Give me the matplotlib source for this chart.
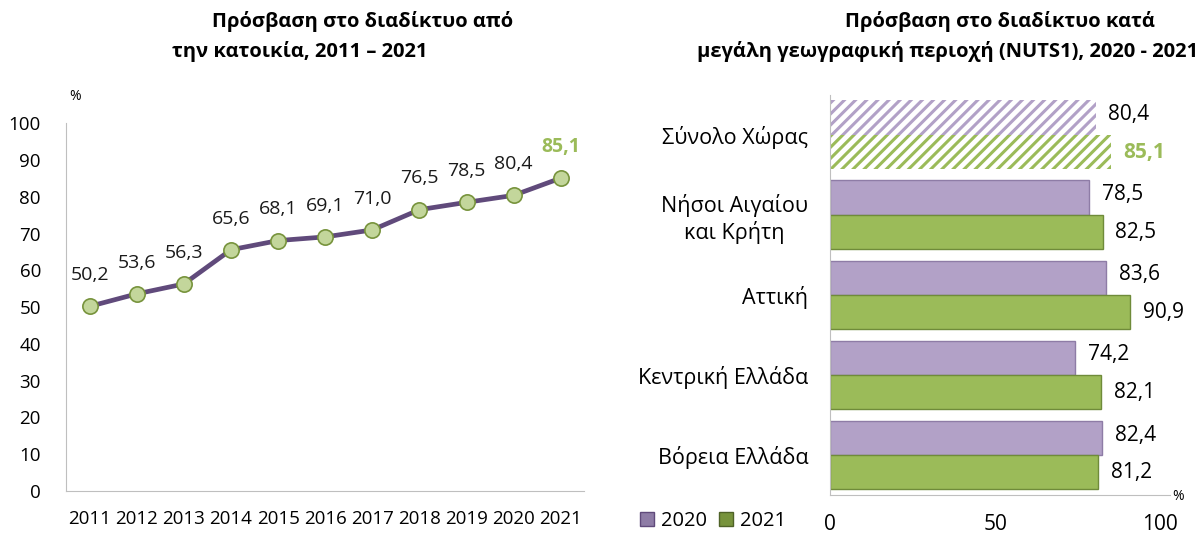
import numpy as np
import matplotlib.pyplot as plt
from matplotlib.patches import Patch

plt.rcParams['font.family'] = ['Open Sans', 'DejaVu Sans']
plt.rcParams['hatch.linewidth'] = 2.2

# left chart data
years = ['2011', '2012', '2013', '2014', '2015', '2016', '2017', '2018', '2019', '2020', '2021']
access = [50.2, 53.6, 56.3, 65.6, 68.1, 69.1, 71.0, 76.5, 78.5, 80.4, 85.1]

# right chart data
regions = ['Σύνολο Χώρας', 'Νήσοι Αιγαίου\nκαι Κρήτη', 'Αττική', 'Κεντρική Ελλάδα', 'Βόρεια Ελλάδα']
v2020 = [80.4, 78.5, 83.6, 74.2, 82.4]
v2021 = [85.1, 82.5, 90.9, 82.1, 81.2]

purple_line = '#604A7B'
purple_bar = '#B2A1C7'
green_bar = '#9BBB59'
green_lbl = '#9BBB59'
grey = '#BFBFBF'

fig = plt.figure(figsize=(12, 5.36), dpi=100)

# ---- left: line chart
ax1 = fig.add_axes([0.055, 0.084, 0.432, 0.686])
x = np.arange(len(years))
ax1.plot(x, access, color=purple_line, lw=3.4, marker='o', ms=11,
         mfc='#C3D69B', mec='#77933C', mew=1.2, zorder=3)
for i, v in enumerate(access):
    lbl = f'{v:.1f}'.replace('.', ',')
    if i == len(access) - 1:
        ax1.annotate(lbl, (i, v), xytext=(0, 15), textcoords='offset points',
                     ha='center', va='bottom', fontsize=14, color=green_lbl, fontweight='bold')
    else:
        ax1.annotate(lbl, (i, v), xytext=(0, 16), textcoords='offset points',
                     ha='center', va='bottom', fontsize=14, color='#1a1a1a')
ax1.set_xlim(-0.5, len(years) - 0.5)
ax1.set_ylim(0, 100)
ax1.set_yticks(range(0, 101, 10))
ax1.set_xticks(x)
ax1.set_xticklabels(years, fontsize=13.5)
ax1.tick_params(axis='y', labelsize=13.5, length=0, pad=18)
ax1.tick_params(axis='x', length=0, pad=14)
for s in ['top', 'right']:
    ax1.spines[s].set_visible(False)
for s in ['left', 'bottom']:
    ax1.spines[s].set_color(grey)
ax1.text(75 / 1200, 1 - 97 / 536, '%', transform=fig.transFigure, fontsize=10,
         ha='center', va='center')
fig.text(363 / 1200, 1 - 22 / 536, 'Πρόσβαση στο διαδίκτυο από', ha='center', va='center',
         fontsize=14.5, fontweight='bold')
fig.text(300 / 1200, 1 - 52 / 536, 'την κατοικία, 2011 – 2021', ha='center', va='center',
         fontsize=14.5, fontweight='bold')

# ---- right: horizontal bars
ax2 = fig.add_axes([0.692, 0.0765, 0.275, 0.7465])
y = np.arange(len(regions))
h = 0.43
for i in y:
    if i == 0:
        ax2.barh(i - h / 2, v2020[i], height=h, color='white', edgecolor=purple_bar,
                 hatch='///', lw=0)
        ax2.barh(i + h / 2, v2021[i], height=h, color='white', edgecolor=green_bar,
                 hatch='///', lw=0)
    else:
        ax2.barh(i - h / 2, v2020[i], height=h, color=purple_bar, edgecolor='#8E7CA6', lw=1)
        ax2.barh(i + h / 2, v2021[i], height=h, color=green_bar, edgecolor='#6F8B3A', lw=1)
    ax2.annotate(f'{v2020[i]:.1f}'.replace('.', ','), (v2020[i], i - h / 2), xytext=(9, 2),
                 textcoords='offset points', ha='left', va='center', fontsize=15)
    if i == 0:
        ax2.annotate(f'{v2021[i]:.1f}'.replace('.', ','), (v2021[i], i + h / 2), xytext=(9, 0),
                     textcoords='offset points', ha='left', va='center', fontsize=15,
                     color=green_lbl, fontweight='bold')
    else:
        ax2.annotate(f'{v2021[i]:.1f}'.replace('.', ','), (v2021[i], i + h / 2), xytext=(9, 0),
                     textcoords='offset points', ha='left', va='center', fontsize=15)
ax2.set_ylim(len(regions) - 0.5, -0.5)
ax2.set_xlim(0, 100)
ax2.set_xticks([0, 50, 100])
ax2.set_yticks(y)
ax2.set_yticklabels(regions, fontsize=15.5, multialignment='center')
ax2.tick_params(axis='y', length=0, pad=16)
ax2.tick_params(axis='x', length=0, pad=14, labelsize=15)
for s in ['top', 'right']:
    ax2.spines[s].set_visible(False)
for s in ['left', 'bottom']:
    ax2.spines[s].set_color(grey)
ax2.spines['bottom'].set_bounds(0, 103)
fig.text(1178 / 1200, 1 - 497 / 536, '%', fontsize=10, ha='center', va='center')

handles = [Patch(facecolor='#8E7CA6', edgecolor='#604A7B', label='2020'),
           Patch(facecolor='#77933C', edgecolor='#4F6228', label='2021')]
fig.legend(handles=handles, loc='center', bbox_to_anchor=(713 / 1200, 1 - 521 / 536), ncol=2,
           frameon=False, fontsize=14.5, handlelength=0.7, handleheight=0.7,
           handletextpad=0.35, columnspacing=0.6, borderpad=0)

fig.text(1000 / 1200, 1 - 22 / 536, 'Πρόσβαση στο διαδίκτυο κατά', ha='center', va='center',
         fontsize=14.5, fontweight='bold')
fig.text(948 / 1200, 1 - 52 / 536, 'μεγάλη γεωγραφική περιοχή (NUTS1), 2020 - 2021',
         ha='center', va='center', fontsize=14.5, fontweight='bold')

fig.savefig('out.png', dpi=100)
